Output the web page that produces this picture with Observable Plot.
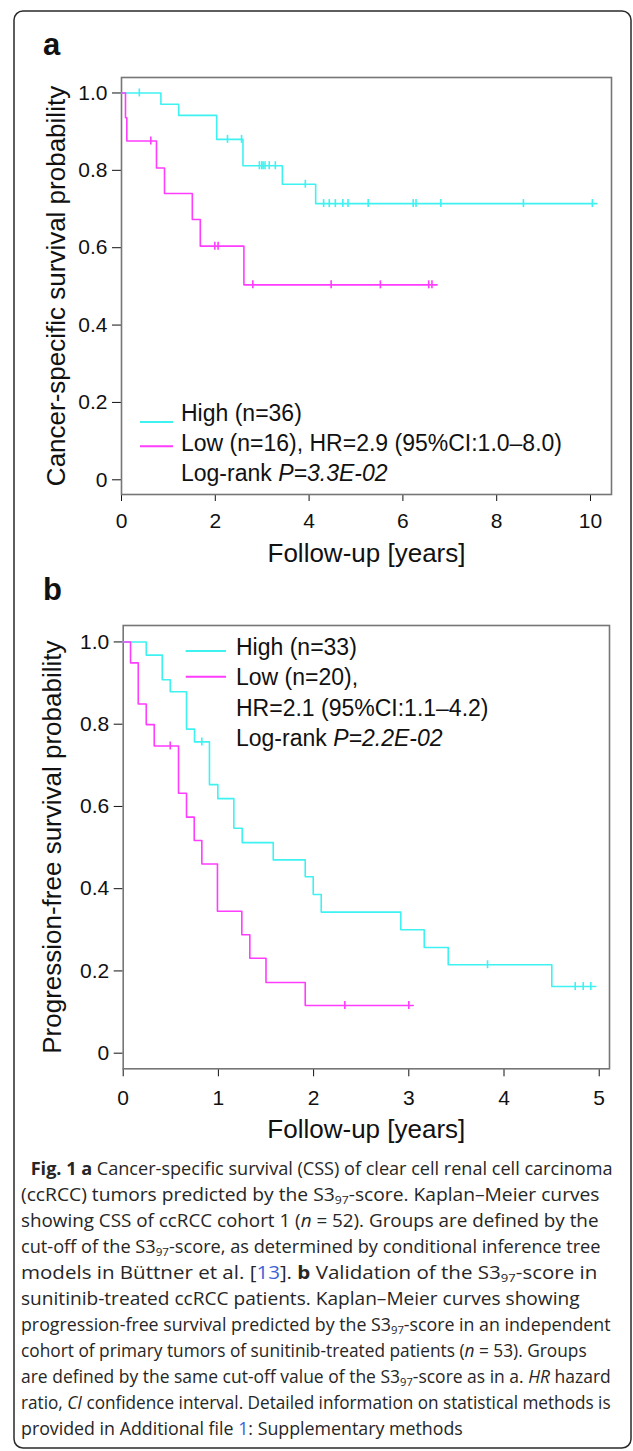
<!DOCTYPE html>
<html><head><meta charset="utf-8">
<script src="https://cdn.jsdelivr.net/npm/d3@7"></script>
<script src="https://cdn.jsdelivr.net/npm/@observablehq/plot@0.6"></script>
<style>
html,body{margin:0;padding:0;background:#fff;}
#page{position:relative;width:633px;height:1451px;overflow:hidden;background:#fff;}
#page > svg{position:absolute;left:0;}
</style></head><body><div id="page"></div>
<script>
// ---------------- DATA ----------------
// Panel a: cancer-specific survival (years, survival probability)
const aHighTimes  = [0, 0.84, 1.22, 2.03, 2.59, 3.43, 4.14];
const aHighSurv   = [1, 0.971, 0.942, 0.880, 0.812, 0.764, 0.714];
const aHighEnd    = 10.14;
const aHighCensor = [0.38, 2.26, 2.56, 2.94, 2.99, 3.02, 3.06, 3.15, 3.28, 3.92, 4.31, 4.43, 4.56, 4.72, 4.83, 5.26, 6.22, 6.28, 6.81, 8.57, 10.04];

const aLowTimes  = [0, 0.085, 0.113, 0.746, 0.917, 1.51, 1.68, 2.61];
const aLowSurv   = [1, 0.936, 0.876, 0.806, 0.740, 0.673, 0.604, 0.504];
const aLowEnd    = 6.73;
const aLowCensor = [0.625, 1.99, 2.06, 2.80, 4.47, 5.52, 6.55, 6.62];

// Panel b: progression-free survival
const bHighTimes  = [0, 0.242, 0.41, 0.494, 0.665, 0.749, 0.906, 0.994, 1.162, 1.25, 1.576, 1.912, 1.996, 2.08, 2.916, 3.162, 3.414, 4.502];
const bHighSurv   = [1, 0.968, 0.908, 0.879, 0.788, 0.757, 0.653, 0.619, 0.547, 0.512, 0.470, 0.429, 0.386, 0.343, 0.300, 0.257, 0.215, 0.162];
const bHighEnd    = 4.964;
const bHighCensor = [0.826, 3.827, 4.748, 4.832, 4.912];

const bLowTimes  = [0, 0.077, 0.158, 0.242, 0.326, 0.581, 0.665, 0.746, 0.826, 0.99, 1.246, 1.33, 1.50, 1.912];
const bLowSurv   = [1, 0.949, 0.849, 0.799, 0.747, 0.632, 0.574, 0.517, 0.460, 0.345, 0.288, 0.231, 0.172, 0.116];
const bLowEnd    = 3.046;
const bLowCensor = [0.494, 2.328, 3.0];

const yTicks  = [0, 0.2, 0.4, 0.6, 0.8, 1.0];
const aXTicks = [0, 2, 4, 6, 8, 10];
const bXTicks = [0, 1, 2, 3, 4, 5];

const aLegend = [["High (n=36)"], ["Low (n=16), HR=2.9 (95%CI:1.0–8.0)"], ["Log-rank ", "P=3.3E-02"]];
const bLegend = [["High (n=33)"], ["Low (n=20),"], ["HR=2.1 (95%CI:1.1–4.2)"], ["Log-rank ", "P=2.2E-02"]];

const captionLines = [
  [["b","Fig. 1 a"],["n"," Cancer-specific survival (CSS) of clear cell renal cell carcinoma"]],
  [["n","(ccRCC) tumors predicted by the S3"],["s","97"],["n","-score. Kaplan–Meier curves"]],
  [["n","showing CSS of ccRCC cohort 1 ("],["i","n"],["n"," = 52). Groups are defined by the"]],
  [["n","cut-off of the S3"],["s","97"],["n","-score, as determined by conditional inference tree"]],
  [["n","models in Büttner et al. ["],["l","13"],["n","]. "],["b","b"],["n"," Validation of the S3"],["s","97"],["n","-score in"]],
  [["n","sunitinib-treated ccRCC patients. Kaplan–Meier curves showing"]],
  [["n","progression-free survival predicted by the S3"],["s","97"],["n","-score in an independent"]],
  [["n","cohort of primary tumors of sunitinib-treated patients ("],["i","n"],["n"," = 53). Groups"]],
  [["n","are defined by the same cut-off value of the S3"],["s","97"],["n","-score as in a. "],["i","HR"],["n"," hazard"]],
  [["n","ratio, "],["i","CI"],["n"," confidence interval. Detailed information on statistical methods is"]],
  [["n","provided in Additional file "],["l","1"],["n",": Supplementary methods"]]
];

// ---------------- STYLE ----------------
const FONT = "'Liberation Sans', Arial, Helvetica, sans-serif";
const CYAN = "#3ff2f2";
const MAGENTA = "#ff3dff";
const INK = "#111";

function steps(times, surv, end) {
  const pts = times.map((t, i) => ({t, s: surv[i]}));
  pts.push({t: end, s: surv[surv.length - 1]});
  return pts;
}
function censors(times, surv, cens) {
  return cens.map(c => {
    let s = surv[0];
    for (let i = 0; i < times.length; i++) if (times[i] <= c) s = surv[i];
    return {t: c, s};
  });
}

function legendMark(items, L) {
  return () => {
    const g = d3.create("svg:g").attr("font-family", FONT).attr("font-size", 23).attr("fill", INK)
      .attr("text-anchor", "start");
    [CYAN, MAGENTA].forEach((c, i) => {
      g.append("line").attr("x1", L.sx1).attr("x2", L.sx2).attr("y1", L.sy[i]).attr("y2", L.sy[i])
        .attr("stroke", c).attr("stroke-width", 2);
    });
    items.forEach((parts, i) => {
      const t = g.append("text").attr("x", L.tx).attr("y", L.ty[i]).attr("text-anchor", "start");
      parts.forEach((p, j) => {
        const sp = t.append("tspan").text(p);
        if (j === 1) sp.attr("font-style", "italic");
      });
    });
    return g.node();
  };
}

function panel(o) {
  const svg = Plot.plot({
    width: 633, height: o.height,
    marginTop: o.mt, marginBottom: o.mb, marginLeft: o.ml, marginRight: o.mr,
    style: {fontFamily: FONT, fontSize: "21px", color: INK, background: "transparent", overflow: "visible"},
    x: {domain: o.xDomain, ticks: o.xTicks, tickSize: o.xTickSize, tickPadding: o.xTickPad, label: null, tickFormat: d => String(d)},
    y: {domain: [-0.038, 1.04], ticks: yTicks, tickSize: 9, tickPadding: 5, label: null, tickFormat: d => d === 0 ? "0" : d.toFixed(1)},
    marks: [
      Plot.frame({stroke: "#767676", strokeWidth: 1.6}),
      Plot.line(o.high, {x: "t", y: "s", curve: "step-after", stroke: CYAN, strokeWidth: 1.6}),
      Plot.line(o.low, {x: "t", y: "s", curve: "step-after", stroke: MAGENTA, strokeWidth: 1.6}),
      Plot.ruleX(o.highC, {x: "t", y1: "s", y2: "s", insetTop: -4, insetBottom: -4, stroke: CYAN, strokeWidth: 1.6}),
      Plot.ruleX(o.lowC, {x: "t", y1: "s", y2: "s", insetTop: -4, insetBottom: -4, stroke: MAGENTA, strokeWidth: 1.6}),
      Plot.text(["Follow-up [years]"], {text: d => d, frameAnchor: "bottom", lineAnchor: "top", textAnchor: "middle", dy: o.xTitleDy, fontSize: 26, fill: INK}),
      Plot.text([o.yTitle], {text: d => d, frameAnchor: "left", textAnchor: "middle", rotate: -90, dx: o.yTitleDx, fontSize: 26, fill: INK}),
      legendMark(o.legend, o.L)
    ]
  });
  svg.style.position = "absolute";
  svg.style.top = o.top + "px";
  svg.style.left = "0px";
  return svg;
}

const page = document.getElementById("page");

page.appendChild(panel({
  top: 0, height: 575, mt: 77, mb: 81, ml: 121, mr: 22,
  xDomain: [0, 10.448], xTicks: aXTicks, xTickSize: 7, xTickPad: 11.5, xTitleDy: 49,
  high: steps(aHighTimes, aHighSurv, aHighEnd), low: steps(aLowTimes, aLowSurv, aLowEnd),
  highC: censors(aHighTimes, aHighSurv, aHighCensor), lowC: censors(aLowTimes, aLowSurv, aLowCensor),
  yTitle: "Cancer-specific survival probability", yTitleDx: -65,
  legend: aLegend, L: {sx1: 140, sx2: 173, sy: [422, 446.3], tx: 181, ty: [420.5, 450.5, 481]}
}));

const bTop = 575;
page.appendChild(panel({
  top: bTop, height: 575, mt: 50, mb: 81.7, ml: 122.7, mr: 24,
  xDomain: [0, 5.108], xTicks: bXTicks, xTickSize: 8, xTickPad: 13, xTitleDy: 51,
  high: steps(bHighTimes, bHighSurv, bHighEnd), low: steps(bLowTimes, bLowSurv, bLowEnd),
  highC: censors(bHighTimes, bHighSurv, bHighCensor), lowC: censors(bLowTimes, bLowSurv, bLowCensor),
  yTitle: "Progression-free survival probability", yTitleDx: -71,
  legend: bLegend, L: {sx1: 185.7, sx2: 226, sy: [651 - bTop, 676.7 - bTop], tx: 236, ty: [655 - bTop, 685 - bTop, 716 - bTop, 746 - bTop]}
}));

// ---------------- DECOR: border, panel letters, caption ----------------
const deco = d3.create("svg").attr("width", 633).attr("height", 1451)
  .style("position", "absolute").style("top", "0px").style("left", "0px").style("pointer-events", "none");
deco.append("rect").attr("x", 14).attr("y", 11).attr("width", 617).attr("height", 1437).attr("rx", 9)
  .attr("fill", "none").attr("stroke", "#2a2a2a").attr("stroke-width", 1.5);
deco.append("text").attr("x", 43).attr("y", 55).attr("font-family", FONT).attr("font-weight", "bold").attr("font-size", 31).attr("fill", INK).text("a");
deco.append("text").attr("x", 43).attr("y", 600).attr("font-family", FONT).attr("font-weight", "bold").attr("font-size", 31).attr("fill", INK).text("b");
page.appendChild(deco.node());

const capStart = [30.7, 21, 21, 21, 21, 21, 21, 21, 21, 21, 21];
const capEnd   = [613, 600, 599, 601, 598, 580, 611, 587, 611, 611, 463];
const cap = deco.append("g").attr("font-family", "'Open Sans', 'Noto Sans', sans-serif").attr("font-size", 18).attr("fill", "#262626");
captionLines.forEach((segs, i) => {
  const t = cap.append("text").attr("x", 0).attr("y", 0);
  let shifted = false;
  segs.forEach(([k, s]) => {
    const sp = t.append("tspan").text(s);
    if (k === "s") { sp.attr("font-size", 11.5).attr("dy", 3); shifted = true; }
    else if (shifted) { sp.attr("dy", -3); shifted = false; }
    if (k === "b") sp.attr("font-weight", "bold");
    if (k === "i") sp.attr("font-style", "italic");
    if (k === "l") sp.attr("fill", "#3b63d9");
  });
  const natural = t.node().getComputedTextLength() || 1;
  const sx = (capEnd[i] - capStart[i]) / natural;
  t.attr("transform", `translate(${capStart[i]},${1175 + 26 * i}) scale(${sx},1)`);
});
</script>
</body></html>
